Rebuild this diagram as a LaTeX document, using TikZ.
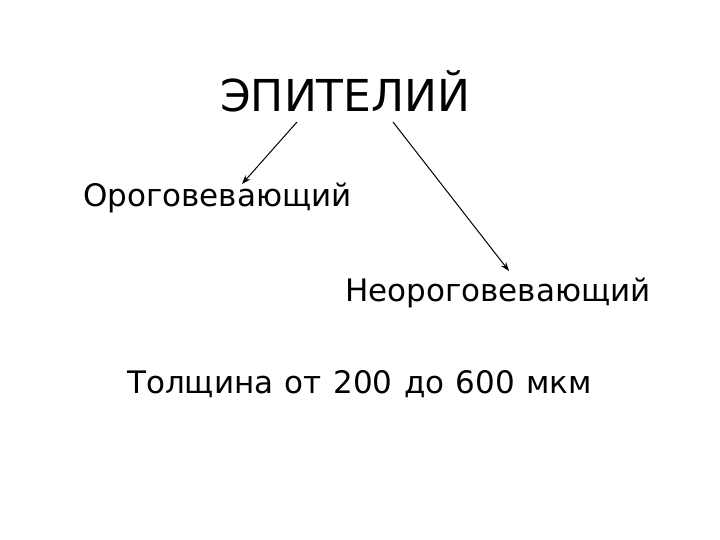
\documentclass[tikz,border=0pt]{standalone}
\usepackage{fontspec}
\setmainfont{DejaVu Sans}
\usetikzlibrary{arrows.meta}

\tikzset{
  big/.style={font=\fontsize{44}{52}\selectfont, inner sep=0pt, anchor=base west},
  txt/.style={font=\fontsize{31}{37}\selectfont, inner sep=0pt, anchor=base west},
  arr/.style={-{Stealth[length=9pt,width=6.5pt]}, line width=1pt}
}

\begin{document}
\begin{tikzpicture}[x=1pt,y=-1pt]
        \useasboundingbox (0,0) rectangle (720,540);
        % Заголовок
        \node[big] (epi) at (220,112) {ЭПИТЕЛИЙ};
        \node[txt] (oro) at (83,207) {Ороговевающий};
        \node[txt] (neo) at (345,301) {Неороговевающий};
        \node[txt] (tol) at (127,393) {\spaceskip=0.37em Толщина от 200 до 600 мкм};
        % Стрелки
        \coordinate (a) at (297,122);
        \coordinate (b) at (242,184);
        \coordinate (c) at (393,122);
        \coordinate (d) at (509,271);
        \draw[arr] (a) -- (b);
        \draw[arr] (c) -- (d);
    \end{tikzpicture}
\end{document}
